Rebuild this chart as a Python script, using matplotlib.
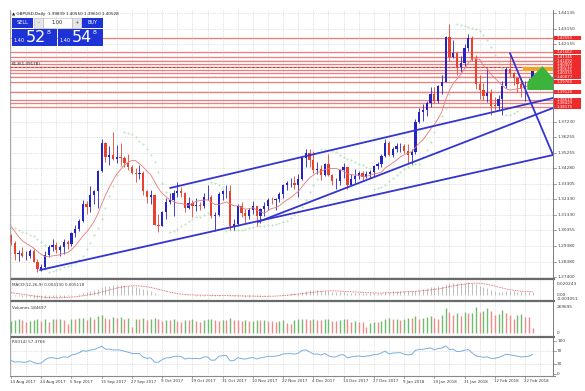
import numpy as np
import pandas as pd
import matplotlib
matplotlib.use('Agg')
import matplotlib.pyplot as plt
from matplotlib.patches import Rectangle, Polygon

# ---------------- data ----------------
opens = [1.3007,1.2954,1.2884,1.2895,1.2874,1.2875,1.2906,1.2837,1.2793,1.2802,1.2882,1.2933,1.2942,1.2914,
         1.2930,1.2964,1.2948,1.3016,1.3044,1.3097,1.3202,1.3186,1.3258,1.3283,1.3409,1.3588,1.3498,1.3515,1.3488,1.3500,1.3492,1.3460,1.3434,1.3401,1.3395,
         1.3396,1.3285,1.3250,1.3259,1.3070,1.3065,1.3150,1.3215,1.3225,1.3270,1.3285,1.3275,1.3180,1.3211,1.3192,1.3199,1.3187,1.3244,1.3245,1.3125,1.3130,1.3264,
         1.3285,1.3285,1.3063,1.3078,1.3192,1.3144,1.3125,1.3164,1.3187,1.3124,1.3169,1.3190,1.3230,1.3225,1.3235,1.3263,1.3323,1.3334,1.3338,1.3324,1.3360,1.3495,
         1.3527,1.3479,1.3415,1.3424,1.3389,1.3457,1.3389,1.3348,1.3349,1.3418,1.3434,1.3326,1.3360,1.3381,1.3396,1.3376,1.3395,1.3405,1.3446,1.3455,
         1.3506,1.3588,1.3513,1.3554,1.3568,1.3572,1.3537,1.3516,1.3531,1.3722,1.3786,1.3799,1.3840,1.3902,1.3856,1.3949,1.3977,1.4264,1.4135,1.4158,1.4072,1.4097,
         1.4193,1.4256,1.4121,1.3962,1.3927,1.3886,1.3908,1.3827,1.3826,1.3870,1.3948,1.4060,1.4032,1.4002,1.3966,1.3932,1.3951,1.3984]
highs = [1.3010,1.2970,1.2910,1.2930,1.2906,1.2920,1.2918,1.2852,1.2823,1.2903,1.2940,1.2980,1.2960,1.2940,
         1.2978,1.2973,1.3028,1.3069,1.3110,1.3225,1.3223,1.3318,1.3290,1.3420,1.3617,1.3595,1.3568,1.3657,1.3575,1.3590,1.3510,1.3520,1.3450,1.3430,1.3450,
         1.3410,1.3290,1.3290,1.3264,1.3140,1.3160,1.3240,1.3270,1.3290,1.3340,1.3310,1.3280,1.3245,1.3225,1.3240,1.3215,1.3270,1.3320,1.3260,1.3150,1.3280,1.3290,
         1.3320,1.3320,1.3110,1.3200,1.3215,1.3170,1.3180,1.3224,1.3190,1.3175,1.3215,1.3240,1.3250,1.3240,1.3280,1.3330,1.3350,1.3365,1.3380,1.3395,1.3500,1.3550,
         1.3550,1.3540,1.3470,1.3450,1.3465,1.3520,1.3395,1.3365,1.3425,1.3460,1.3440,1.3390,1.3425,1.3410,1.3410,1.3410,1.3420,1.3450,1.3470,1.3520,
         1.3613,1.3600,1.3565,1.3590,1.3590,1.3580,1.3580,1.3550,1.3743,1.3810,1.3835,1.3857,1.3945,1.3945,1.3960,1.4019,1.4270,1.4345,1.4240,1.4165,1.4140,1.4220,
         1.4280,1.4270,1.4150,1.4020,1.3970,1.4065,1.3930,1.3880,1.3895,1.3980,1.4070,1.4145,1.4040,1.4010,1.4000,1.3985,1.4000,1.4055]
lows = [1.2940,1.2850,1.2843,1.2865,1.2847,1.2860,1.2832,1.2774,1.2778,1.2790,1.2865,1.2906,1.2890,1.2874,
        1.2888,1.2920,1.2938,1.2995,1.3030,1.3090,1.3138,1.3155,1.3202,1.3175,1.3405,1.3471,1.3451,1.3480,1.3465,1.3450,1.3434,1.3420,1.3390,1.3340,1.3360,
        1.3260,1.3210,1.3200,1.3070,1.3027,1.3060,1.3110,1.3200,1.3125,1.3250,1.3250,1.3155,1.3170,1.3120,1.3160,1.3165,1.3180,1.3230,1.3115,1.3030,1.3125,1.3225,
        1.3240,1.3040,1.3040,1.3060,1.3120,1.3085,1.3110,1.3140,1.3062,1.3080,1.3125,1.3165,1.3200,1.3165,1.3215,1.3240,1.3290,1.3310,1.3300,1.3250,1.3355,1.3440,
        1.3436,1.3400,1.3390,1.3355,1.3380,1.3380,1.3320,1.3300,1.3320,1.3370,1.3300,1.3320,1.3335,1.3360,1.3350,1.3370,1.3370,1.3380,1.3425,1.3440,
        1.3500,1.3505,1.3500,1.3535,1.3535,1.3525,1.3460,1.3457,1.3520,1.3715,1.3730,1.3760,1.3820,1.3840,1.3840,1.3900,1.3975,1.4110,1.4130,1.4020,1.4040,1.4080,
        1.4170,1.4110,1.3930,1.3870,1.3865,1.3850,1.3765,1.3800,1.3800,1.3765,1.3940,1.4010,1.3960,1.3915,1.3880,1.3856,1.3930,1.3961]
closes = [1.2954,1.2884,1.2895,1.2874,1.2875,1.2906,1.2837,1.2793,1.2802,1.2882,1.2933,1.2942,1.2914,1.2930,
          1.2964,1.2948,1.3016,1.3044,1.3097,1.3202,1.3186,1.3258,1.3283,1.3409,1.3588,1.3498,1.3515,1.3488,1.3500,1.3492,1.3460,1.3434,1.3401,1.3395,1.3396,
          1.3285,1.3250,1.3259,1.3070,1.3065,1.3150,1.3215,1.3225,1.3270,1.3285,1.3275,1.3180,1.3211,1.3192,1.3199,1.3187,1.3244,1.3245,1.3125,1.3130,1.3264,1.3285,
          1.3285,1.3063,1.3078,1.3192,1.3144,1.3125,1.3164,1.3187,1.3124,1.3169,1.3190,1.3230,1.3225,1.3235,1.3263,1.3323,1.3334,1.3338,1.3324,1.3360,1.3495,1.3527,
          1.3479,1.3415,1.3424,1.3389,1.3457,1.3389,1.3348,1.3349,1.3418,1.3434,1.3326,1.3360,1.3381,1.3396,1.3376,1.3395,1.3405,1.3446,1.3455,1.3506,
          1.3588,1.3513,1.3554,1.3568,1.3572,1.3537,1.3516,1.3531,1.3722,1.3786,1.3799,1.3840,1.3902,1.3856,1.3949,1.3977,1.4264,1.4135,1.4158,1.4072,1.4097,1.4193,
          1.4256,1.4121,1.3962,1.3927,1.3886,1.3908,1.3827,1.3826,1.3870,1.3948,1.4060,1.4032,1.4002,1.3966,1.3932,1.3951,1.3967,1.4052]
volumes = [128000,140000,146000,132000,118000,122000,138000,150000,124000,148000,112000,150000,142000,150000,
           138000,96000,150000,146000,152000,160000,140000,165000,150000,172000,185000,158000,150000,170000,160000,168000,150000,155000,60000,150000,148000,
           152000,138000,145000,160000,150000,120000,140000,135000,150000,128000,118000,140000,130000,145000,125000,118000,135000,142000,150000,138000,125000,140000,
           140000,160000,138000,130000,125000,140000,120000,128000,140000,130000,138000,125000,120000,118000,128000,135000,100000,95000,132000,142000,150000,148000,
           140000,145000,138000,130000,142000,150000,128000,120000,140000,148000,145000,115000,125000,118000,110000,60000,105000,118000,115000,120000,
           150000,155000,148000,150000,130000,145000,160000,155000,175000,150000,160000,165000,175000,160000,150000,185000,255000,215000,190000,205000,180000,215000,
           205000,210000,268000,215000,225000,260000,230000,190000,200000,240000,210000,185000,150000,190000,200000,170000,165000,55000]
# closes before the first visible bar (indicator warm-up)
prior_closes = [1.2935,1.2925,1.2945,1.2985,1.2885,1.2880,1.2860,1.2950,1.2950,1.3100,1.3070,1.3040,1.2995,1.2955,1.2995,
                1.3040,1.3030,1.3110,1.3070,1.3135,1.3205,1.3200,1.3240,1.3133,1.3040,1.3045,1.2995,1.2995,1.3005,1.3007]

first_day, last_day = '2017-08-14', '2018-02-26'
market_holidays = ['2017-12-25', '2018-01-01']
date_labels = ["14 Aug 2017", "24 Aug 2017", "5 Sep 2017", "15 Sep 2017", "27 Sep 2017", "9 Oct 2017",
               "19 Oct 2017", "31 Oct 2017", "10 Nov 2017", "22 Nov 2017", "4 Dec 2017", "14 Dec 2017",
               "27 Dec 2017", "9 Jan 2018", "19 Jan 2018", "31 Jan 2018", "12 Feb 2018", "22 Feb 2018"]
price_ticks = [1.27400, 1.28380, 1.29380, 1.30355, 1.31330, 1.32330, 1.33305, 1.34280, 1.35255,
               1.36255, 1.37230, 1.38205, 1.39180, 1.40155, 1.41130, 1.42155, 1.43150, 1.44135]
hline_prices = [1.42550, 1.41662, 1.41345, 1.41092, 1.40901, 1.40711, 1.40521, 1.40331, 1.40077,
                1.39760, 1.39126, 1.38619, 1.38429, 1.38175]
dashed_level = 1.40680
# trend lines: (bar index, price) pairs
trend_lines = [((7.7, 1.27841), (143.4, 1.35132)),
               ((42.1, 1.33040), (143.4, 1.38746)),
               ((65.3, 1.30885), (143.4, 1.38112)),
               ((132.0, 1.41599), (143.4, 1.35132))]
triangle_pts = [(136.6, 1.39253), (136.6, 1.39760), (140.6, 1.40775), (143.6, 1.39950), (143.6, 1.39253)]
band_prices = (1.40460, 1.40715)
band_start = 135.5
macd_labels = ["0.020243", "0.00", "-0.003051"]
vol_labels = ["269695", "0"]
rsi_levels = [100, 70, 30, 0]

# ---------------- layout helpers ----------------
W, H = 585, 391
fig = plt.figure(figsize=(W / 100, H / 100), dpi=100)
fig.patch.set_facecolor('white')
plt.rcParams['font.family'] = ['DejaVu Sans']

XL, XR = 10, 553
def rect(y0, y1, x0=XL, x1=XR):
    return [x0 / W, 1 - y1 / H, (x1 - x0) / W, (y1 - y0) / H]

n = len(closes)
idx = np.arange(n)
XLIM = (-0.26, 143.4)
GRID_C = '#c8c8c8'
TXT_C = '#3a3a3a'
FS = 3.1

bar_dates = [d for d in pd.bdate_range(first_day, last_day) if str(d.date()) not in market_holidays]
label_pos = [bar_dates.index(pd.to_datetime(s, format='%d %b %Y')) for s in date_labels]

def vgrid(ax):
    for k in range(0, n + 8, 4):
        ax.axvline(k, color=GRID_C, lw=0.5, ls=(0, (1, 1.5)), zorder=0)

def clean(ax):
    for s in ax.spines.values():
        s.set_visible(False)
    ax.set_xticks([]); ax.set_yticks([])
    ax.set_xlim(*XLIM)
    ax.patch.set_alpha(0)

# ---------------- indicators ----------------
allc = np.array(prior_closes + closes)
np_ = len(prior_closes)
sma10 = pd.Series(allc).rolling(10).mean().values[np_:]

def ema(x, p):
    return pd.Series(x).ewm(span=p, adjust=False).mean().values
macd_all = ema(allc, 12) - ema(allc, 26)
signal_all = pd.Series(macd_all).rolling(9, min_periods=1).mean().values
macd = macd_all[np_:]; signal = signal_all[np_:]

d = np.diff(allc)
up = np.where(d > 0, d, 0.0); dn = np.where(d < 0, -d, 0.0)
au = pd.Series(up).ewm(alpha=1/14, adjust=False).mean().values
ad = pd.Series(dn).ewm(alpha=1/14, adjust=False).mean().values
rsi_all = 100 - 100 / (1 + au / np.maximum(ad, 1e-12))
rsi = rsi_all[np_ - 1:]

def psar(h, l, step=0.02, mx=0.2):
    h = np.array(h); l = np.array(l)
    out = np.zeros(len(h)); trend = -1; ep = l[0]; af = step; out[0] = h[0] + 0.004
    for i in range(1, len(h)):
        s = out[i - 1] + af * (ep - out[i - 1])
        if trend == -1:
            s = max(s, h[i - 1], h[max(i - 2, 0)])
            if h[i] > s:
                trend = 1; s = ep; ep = h[i]; af = step
            elif l[i] < ep:
                ep = l[i]; af = min(af + step, mx)
        else:
            s = min(s, l[i - 1], l[max(i - 2, 0)])
            if l[i] < s:
                trend = -1; s = ep; ep = l[i]; af = step
            elif h[i] > ep:
                ep = h[i]; af = min(af + step, mx)
        out[i] = s
    return out
sar = psar(highs, lows)

# ---------------- main price panel ----------------
YB, YT = 1.27334, 1.44325
ax = fig.add_axes(rect(10, 278))
clean(ax)
ax.set_ylim(YB, YT)
vgrid(ax)
for p in price_ticks:
    ax.axhline(p, color=GRID_C, lw=0.5, ls=(0, (1, 1.5)), zorder=0)

for p in hline_prices:
    ax.axhline(p, color='#f27c7c', lw=0.9, zorder=1)
ax.axhline(dashed_level, color='#c83030', lw=0.6, ls=(0, (3, 2)), zorder=1)

o = np.array(opens); c = np.array(closes); hi = np.array(highs); lo = np.array(lows)
bull = c >= o
cols = np.where(bull, '#2424c4', '#e8412e')
ax.vlines(idx, lo, hi, colors=cols, lw=0.6, zorder=3)
ax.bar(idx, np.maximum(np.abs(c - o), 0.0002), bottom=np.minimum(o, c), width=0.6,
       color=cols, linewidth=0, zorder=4)

ax.plot(idx, sma10, color='#e87878', lw=0.6, zorder=5)
ax.plot(idx, sar, ls='none', marker='.', ms=0.8, color='#a6dea6', zorder=2)

ax.add_patch(Rectangle((band_start, band_prices[0]), XLIM[1] - band_start, band_prices[1] - band_prices[0],
                       color='#f2a51e', zorder=6, lw=0))
ax.add_patch(Polygon(triangle_pts, closed=True, color='#3cb43c', zorder=7, lw=0, clip_on=True))

for (x0, y0), (x1, y1) in trend_lines:
    ax.plot([x0, x1], [y0, y1], color='#3434d0', lw=1.3, zorder=8, solid_capstyle='round')

# ---------------- MACD panel ----------------
axm = fig.add_axes(rect(280, 300))
clean(axm)
vgrid(axm)
hi_m = max(macd.max(), signal.max()); lo_m = min(macd.min(), signal.min())
rng = hi_m - lo_m
axm.set_ylim(lo_m - rng * 1.5 / 17, hi_m + rng * 2.5 / 17)
axm.vlines(idx, 0, macd, colors='#b4b4b4', lw=0.6)
axm.plot(idx, signal, color='#e04848', lw=0.6, ls=(0, (1, 1)))

# ---------------- Volumes panel ----------------
axv = fig.add_axes(rect(302, 336))
clean(axv)
vgrid(axv)
axv.set_ylim(-31119, 321560)
v = np.array(volumes)
vcol = ['#6ebc6e'] + ['#6ebc6e' if v[i] > v[i - 1] else '#f08a8a' for i in range(1, n)]
axv.vlines(idx, 0, v, colors=vcol, lw=1.0)

# ---------------- RSI panel ----------------
axr = fig.add_axes(rect(338, 375))
clean(axr)
vgrid(axr)
axr.set_ylim(-3, 108)
for lv in (70, 30):
    axr.axhline(lv, color=GRID_C, lw=0.5, ls=(0, (1, 1.5)), zorder=0)
axr.plot(idx, rsi, color='#7aaee0', lw=0.7)

# ---------------- overlay (frame, texts, widgets) ----------------
ov = fig.add_axes([0, 0, 1, 1])
ov.set_xlim(0, W); ov.set_ylim(H, 0); ov.axis('off'); ov.patch.set_alpha(0)
ov.set_zorder(10)

for y in (279, 301, 337):
    ov.plot([XL, XR + 2], [y, y], color='#6a6a6a', lw=1.6, solid_capstyle='butt')
ov.plot([XL, XR + 2], [375.5, 375.5], color='#8a8a8a', lw=0.8)
ov.plot([XL, XL], [10, 375.5], color='#9a9a9a', lw=0.6)
ov.plot([XR, XR], [10, 375.5], color='#7a7a7a', lw=0.7)

def py(price):  # price -> pixel row (main panel)
    return 10 + (YT - price) / (YT - YB) * 268

red_rows = [py(p) for p in hline_prices]
for p in price_ticks:
    y = py(p)
    ov.plot([XR, XR + 2.5], [y, y], color='#7a7a7a', lw=0.5)
    if min(abs(y - r) for r in red_rows) > 5.5:
        ov.text(XR + 4, y, f'{p:.5f}', fontsize=FS, color=TXT_C, va='center', ha='left')

for p in hline_prices:
    y = py(p)
    ov.add_patch(Rectangle((XR + 1, y - 2.4), 27, 4.8, color='#ee2a2a', lw=0))
    ov.text(XR + 4, y, f'{p:.5f}', fontsize=2.8, color='white', va='center', ha='left')

ov.text(XR + 4, 284, macd_labels[0], fontsize=FS, color=TXT_C, va='center')
ov.text(XR + 4, 295.5, macd_labels[1], fontsize=FS, color=TXT_C, va='center')
ov.text(XR + 4, 299.2, macd_labels[2], fontsize=FS, color=TXT_C, va='center')
ov.text(XR + 4, 307, vol_labels[0], fontsize=FS, color=TXT_C, va='center')
ov.text(XR + 4, 333, vol_labels[1], fontsize=FS, color=TXT_C, va='center')
for lv in rsi_levels:
    y = 374 - lv * 0.333
    ov.plot([XR, XR + 2.5], [y, y], color='#7a7a7a', lw=0.5)
    ov.text(XR + 4, y, str(lv), fontsize=FS, color=TXT_C, va='center')

ov.text(12, 284.5, 'MACD(12,26,9) 0.004130 0.005118', fontsize=3.0, color=TXT_C, va='center')
ov.text(12, 308, 'Volumes 184697', fontsize=3.0, color=TXT_C, va='center')
ov.text(12, 342, 'RSI(14) 57.3766', fontsize=3.0, color=TXT_C, va='center')

px_per_bar = (XR - XL) / (XLIM[1] - XLIM[0])
for s, k in zip(date_labels, label_pos):
    x = XL + (k - XLIM[0]) * px_per_bar
    ov.plot([x, x], [375.5, 378], color='#7a7a7a', lw=0.5)
    ov.text(x - 1, 381.5, s, fontsize=2.9, color=TXT_C, va='center', ha='left')

ov.text(12, 13.5, '\u25b2 GBPUSD,Daily  1.39839 1.40550 1.39610 1.40528', fontsize=3.0, color='#202020', va='center')
ov.text(12, py(1.40900), '61.8(1.39178)', fontsize=3.0, color='#202020', va='center')

BLUE = '#1d33d6'
ov.add_patch(Rectangle((12, 18), 21, 10, color=BLUE, lw=0))
ov.text(22.5, 23, 'SELL', fontsize=3.6, color='white', ha='center', va='center')
ov.add_patch(Rectangle((34, 18), 9, 10, facecolor='#e6e6e6', edgecolor='#b0b0b0', lw=0.4))
ov.text(38.5, 23, '-', fontsize=4, color='#606060', ha='center', va='center')
ov.add_patch(Rectangle((43, 18), 29, 10, facecolor='white', edgecolor='#b0b0b0', lw=0.4))
ov.text(57.5, 23, '1.00', fontsize=3.6, color='#202020', ha='center', va='center')
ov.add_patch(Rectangle((72, 18), 9, 10, facecolor='#e6e6e6', edgecolor='#b0b0b0', lw=0.4))
ov.text(76.5, 23, '+', fontsize=4, color='#606060', ha='center', va='center')
ov.add_patch(Rectangle((82, 18), 21, 10, color=BLUE, lw=0))
ov.text(92.5, 23, 'BUY', fontsize=3.6, color='white', ha='center', va='center')
for x0, big in ((12, '52'), (58, '54')):
    ov.add_patch(Rectangle((x0, 28.5), 45, 17, color=BLUE, lw=0))
    ov.text(x0 + 1.5, 41, '1.40', fontsize=3.6, color='white', ha='left', va='center')
    ov.text(x0 + 13.5, 37.5, big, fontsize=11.5, color='white', ha='left', va='center')
    ov.text(x0 + 35, 32, '8', fontsize=4.5, color='white', ha='left', va='center')

fig.savefig('out.png', dpi=100, facecolor='white')
